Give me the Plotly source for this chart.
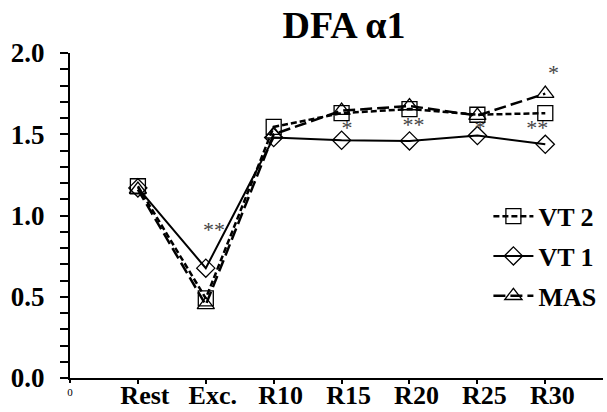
import plotly.graph_objects as go

categories = ["Rest", "Exc.", "R10", "R15", "R20", "R25", "R30"]
x_pos = [1, 2, 3, 4, 5, 6, 7]
vt2 = [1.18, 0.49, 1.545, 1.63, 1.655, 1.62, 1.63]
vt1 = [1.17, 0.676, 1.48, 1.463, 1.459, 1.492, 1.438]
mas = [1.16, 0.45, 1.50, 1.645, 1.674, 1.615, 1.75]

sig_labels = ["**", "*", "**", "*", "**", "*"]
sig_x = [2.12, 4.08, 5.06, 6.04, 6.88, 7.12]
sig_y = [0.90, 1.528, 1.548, 1.528, 1.528, 1.868]

y_ticks = [0.0, 0.5, 1.0, 1.5, 2.0]
y_ticktext = ["0.0", "0.5", "1.0", "1.5", "2.0"]

SERIF = "Liberation Serif, Times New Roman, serif"

fig = go.Figure()
fig.add_trace(go.Scatter(
    x=x_pos, y=vt2, name="VT 2", mode="lines+markers", legendgroup="a",
    line=dict(color="black", width=2.5, dash="6px,3px"),
    marker=dict(symbol="square-open", size=15, color="black", line=dict(width=1.3)),
))
fig.add_trace(go.Scatter(
    x=x_pos, y=vt1, name="VT 1", mode="lines+markers", legendgroup="b",
    line=dict(color="black", width=2),
    marker=dict(symbol="diamond-open", size=14, color="black", line=dict(width=1.3)),
))
fig.add_trace(go.Scatter(
    x=x_pos, y=mas, name="MAS", mode="lines+markers", legendgroup="c",
    line=dict(color="black", width=2.5, dash="12px,5px"),
    marker=dict(symbol="triangle-up-open", size=15, color="black", line=dict(width=1.3)),
))
# significance markers
fig.add_trace(go.Scatter(
    x=sig_x, y=sig_y, mode="text", text=sig_labels, showlegend=False,
    textfont=dict(family=SERIF, size=22, color="#444444"),
    hoverinfo="skip",
))
# invisible trace to activate xaxis2 for the small "0" label
fig.add_trace(go.Scatter(x=[0], y=[0], xaxis="x2", mode="markers",
                         marker=dict(opacity=0), showlegend=False, hoverinfo="skip"))

fig.update_layout(
    width=607, height=412,
    margin=dict(l=70, r=4, t=53, b=34),
    paper_bgcolor="white", plot_bgcolor="white",
    title=dict(text="DFA α1", x=0.5667, xanchor="center", y=0.94, yanchor="middle",
               font=dict(family=SERIF, size=38, color="black", weight="bold")),
    showlegend=True,
    legend=dict(x=0.785, xanchor="left", y=0.57, yanchor="top",
                bgcolor="rgba(0,0,0,0)", tracegroupgap=3,
                font=dict(family=SERIF, size=26, color="black", weight="bold"),
                itemwidth=40),
    xaxis=dict(range=[0, 7.85], showgrid=False, zeroline=False, automargin=False,
               showline=True, linecolor="black", linewidth=2,
               ticks="outside", ticklen=4, tickwidth=1.5, tickcolor="black",
               tickvals=x_pos, ticktext=categories, ticklabelstandoff=-11,
               ticklabelshift=7,
               tickfont=dict(family=SERIF, size=26, color="black", weight="bold")),
    xaxis2=dict(range=[0, 7.85], overlaying="x", anchor="y", side="bottom",
                showgrid=False, zeroline=False, showline=False, automargin=False,
                ticks="outside", ticklen=4, tickwidth=1.5, tickcolor="black",
                tickvals=[0], ticktext=["0"],
                tickfont=dict(family=SERIF, size=11, color="black")),
    yaxis=dict(range=[0, 2.0], showgrid=False, zeroline=False, automargin=False,
               showline=True, linecolor="black", linewidth=2,
               ticks="outside", ticklen=8, tickwidth=2, tickcolor="black",
               tickvals=y_ticks, ticktext=y_ticktext, ticklabelstandoff=10,
               minor=dict(dtick=0.1, ticks="outside", ticklen=8, tickwidth=2, tickcolor="black"),
               tickfont=dict(family=SERIF, size=27, color="black", weight="bold")),
)

fig.write_html("out.html", config={"displayModeBar": False},
               post_script="document.body.style.margin='0';document.body.style.overflow='hidden';")
